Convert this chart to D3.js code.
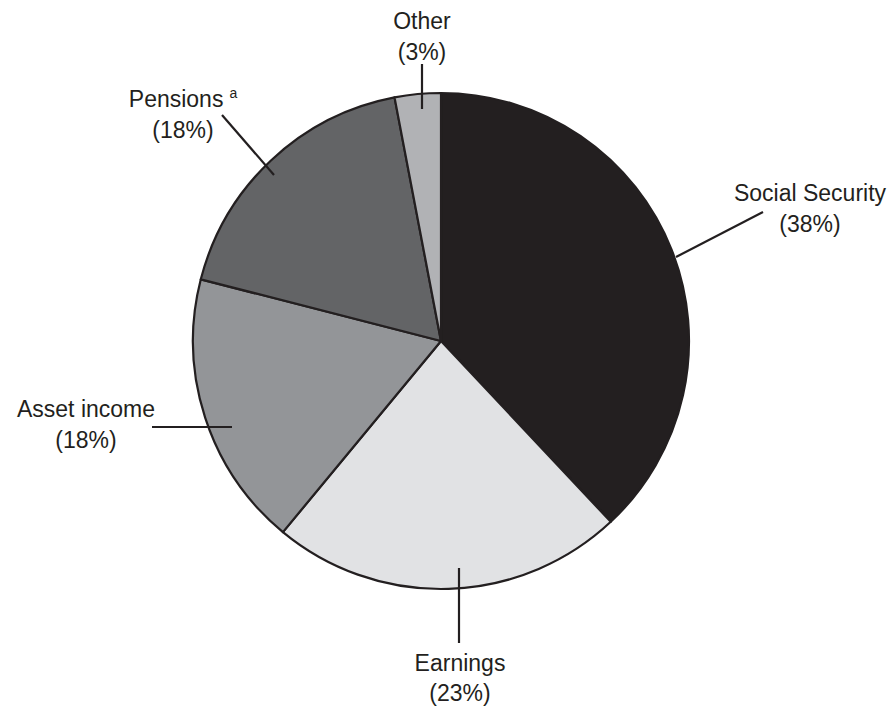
<!DOCTYPE html>
<html>
<head>
<meta charset="utf-8">
<script src="https://cdn.jsdelivr.net/npm/d3@7"></script>
<style>
  html, body { margin: 0; padding: 0; background: #ffffff; }
  svg { display: block; }
  text { font-family: "Liberation Sans", Arial, Helvetica, sans-serif; fill: #231f20; }
</style>
</head>
<body>
<svg id="chart" width="893" height="706"></svg>
<script>
// ---- data ----
const categories = ["Social Security", "Earnings", "Asset income", "Pensions", "Other"];
const shares = [38, 23, 18, 18, 3];
const footnotes = ["", "", "", "a", ""];
const sliceColors = ["#231f20", "#e1e2e4", "#939598", "#636466", "#b1b2b5"];

// ---- layout ----
const W = 893, H = 706;
const cx = 441, cy = 341, R = 248;
const ink = "#231f20";
const fontSize = 23;
const lineGap = 30.5;

// label layout: leader line endpoints and text anchor, relative to pie center
const labelLayout = {
  "Social Security": { line: [[235, -84], [322, -129]], text: [369, -140] },
  "Earnings":        { line: [[18, 227], [18, 302]],    text: [19, 329.5] },
  "Asset income":    { line: [[-209, 86], [-289, 86]],  text: [-355, 76] },
  "Pensions":        { line: [[-167, -166], [-219, -226]], text: [-258, -234] },
  "Other":           { line: [[-19, -232], [-19, -277]], text: [-19, -312] }
};

const svg = d3.select("#chart");
const g = svg.append("g").attr("transform", `translate(${cx},${cy})`);

const data = categories.map((c, i) => ({ name: c, value: shares[i], note: footnotes[i], color: sliceColors[i] }));

const pie = d3.pie().value(d => d.value).sort(null).startAngle(0).endAngle(2 * Math.PI);
const arc = d3.arc().innerRadius(0).outerRadius(R);
const arcs = pie(data);

g.selectAll("path.slice")
  .data(arcs)
  .join("path")
  .attr("class", "slice")
  .attr("d", arc)
  .attr("fill", d => d.data.color)
  .attr("stroke", ink)
  .attr("stroke-width", 2.2)
  .attr("stroke-linejoin", "round");

// leader lines
g.selectAll("line.leader")
  .data(arcs)
  .join("line")
  .attr("class", "leader")
  .attr("x1", d => labelLayout[d.data.name].line[0][0])
  .attr("y1", d => labelLayout[d.data.name].line[0][1])
  .attr("x2", d => labelLayout[d.data.name].line[1][0])
  .attr("y2", d => labelLayout[d.data.name].line[1][1])
  .attr("stroke", ink)
  .attr("stroke-width", 2.2);

// labels
const fmt = d3.format(".0f");
const labels = g.selectAll("text.label")
  .data(arcs)
  .join("text")
  .attr("class", "label")
  .attr("text-anchor", "middle")
  .attr("font-size", fontSize)
  .attr("x", d => labelLayout[d.data.name].text[0])
  .attr("y", d => labelLayout[d.data.name].text[1]);

labels.each(function(d) {
  const t = d3.select(this);
  const lay = labelLayout[d.data.name];
  t.append("tspan").attr("x", lay.text[0]).text(d.data.name);
  if (d.data.note) {
    t.append("tspan").attr("font-size", 14).attr("dx", 6).attr("dy", -9).text(d.data.note);
  }
  t.append("tspan")
    .attr("x", lay.text[0])
    .attr("y", lay.text[1] + lineGap)
    .text(`(${fmt(d.data.value)}%)`);
});
</script>
</body>
</html>
